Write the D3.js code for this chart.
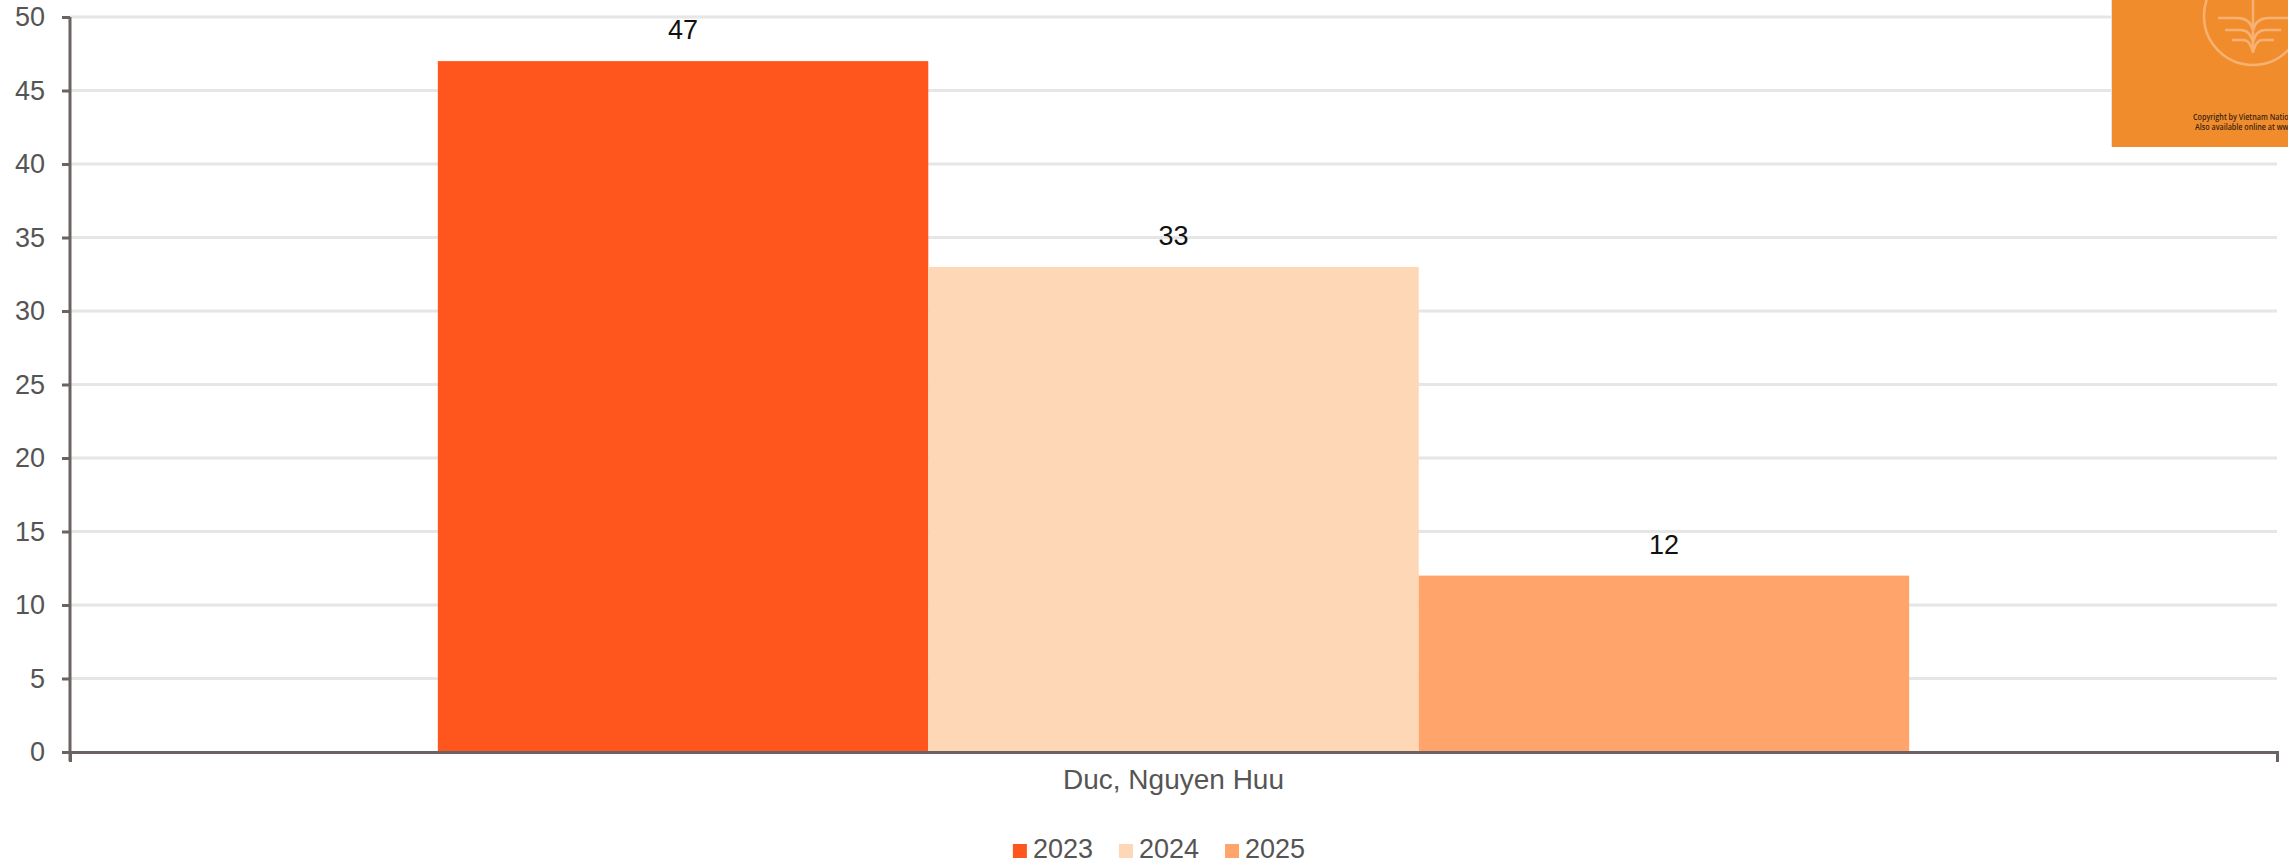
<!DOCTYPE html>
<html>
<head>
<meta charset="utf-8">
<script src="https://cdn.jsdelivr.net/npm/d3@7"></script>
<style>
  html, body { margin: 0; padding: 0; background: #fff; }
  svg { display: block; font-family: "Liberation Sans", Arial, sans-serif; }
</style>
</head>
<body>
<div class="visHolder"></div>
<script>
// chart data
const categories = ['Duc, Nguyen Huu'];
const seriesNames = ['2023', '2024', '2025'];
const seriesValues = [47, 33, 12];
const seriesColors = ['#ff561d', '#fdd7b6', '#ffa56c'];
const yTicks = [0, 5, 10, 15, 20, 25, 30, 35, 40, 45, 50];

const w = 2288, h = 865;
const plotLeft = 70, plotRight = 2277, plotTop = 17, plotBottom = 752;

const svg = d3.select('.visHolder')
  .append('svg')
  .attr('width', w)
  .attr('height', h);

const yScale = d3.scaleLinear().domain([0, 50]).range([plotBottom, plotTop]);
const x0 = d3.scaleBand().domain(categories).range([plotLeft, plotRight])
  .paddingInner(0).paddingOuter(0.25);
const x1 = d3.scaleBand().domain(seriesNames).range([0, x0.bandwidth()]);
const color = d3.scaleOrdinal().domain(seriesNames).range(seriesColors);

// gridlines
svg.append('g')
  .selectAll('line')
  .data(yTicks.filter(d => d > 0))
  .enter()
  .append('line')
  .attr('x1', plotLeft)
  .attr('x2', plotRight)
  .attr('y1', d => yScale(d))
  .attr('y2', d => yScale(d))
  .attr('stroke', '#e6e6e6')
  .attr('stroke-width', 3);

// bars
const rows = seriesNames.map((s, i) => ({cat: categories[0], key: s, value: seriesValues[i]}));
svg.append('g')
  .selectAll('rect')
  .data(rows)
  .enter()
  .append('rect')
  .attr('x', d => x0(d.cat) + x1(d.key))
  .attr('y', d => yScale(d.value))
  .attr('width', x1.bandwidth())
  .attr('height', d => plotBottom - yScale(d.value))
  .attr('fill', d => color(d.key));

// value labels
svg.append('g')
  .selectAll('text')
  .data(rows)
  .enter()
  .append('text')
  .attr('x', d => x0(d.cat) + x1(d.key) + x1.bandwidth() / 2)
  .attr('y', d => yScale(d.value) - 22)
  .attr('text-anchor', 'middle')
  .attr('font-size', 27)
  .attr('fill', '#111')
  .text(d => d.value);

// y axis
const yAxis = d3.axisLeft(yScale).tickValues(yTicks).tickSize(8).tickSizeOuter(0).tickPadding(17);
const gy = svg.append('g')
  .attr('transform', `translate(${plotLeft}, 0)`)
  .call(yAxis);
gy.select('.domain').attr('stroke', '#6b6262').attr('stroke-width', 3)
  .attr('d', `M0,${plotTop}V${plotBottom + 9}`);
gy.selectAll('.tick line').attr('stroke', '#6b6262').attr('stroke-width', 3);
gy.selectAll('.tick text').attr('font-size', 27).attr('fill', '#555')
  .attr('font-family', '"Liberation Sans", Arial, sans-serif');

// x axis
const xAxis = d3.axisBottom(x0).tickSizeInner(0).tickSizeOuter(10).tickPadding(17);
const gx = svg.append('g')
  .attr('transform', `translate(0, ${plotBottom})`)
  .call(xAxis);
gx.select('.domain').attr('stroke', '#6b6262').attr('stroke-width', 3);
gx.selectAll('.tick text').attr('font-size', 28).attr('fill', '#555')
  .attr('font-family', '"Liberation Sans", Arial, sans-serif');

// legend
const legend = svg.append('g').attr('id', 'legend');
const items = legend.selectAll('g')
  .data(seriesNames)
  .enter()
  .append('g');
items.append('rect')
  .attr('width', 14)
  .attr('height', 14)
  .attr('y', -14)
  .attr('fill', d => color(d));
items.append('text')
  .attr('x', 20)
  .attr('y', 0)
  .attr('font-size', 27)
  .attr('fill', '#555')
  .text(d => d);
let off = 0;
items.each(function() {
  const bw = this.getBBox().width;
  d3.select(this).attr('transform', `translate(${off}, 0)`);
  off += bw + 26;
});
const legendWidth = off - 26;
legend.attr('transform', `translate(${1159 - legendWidth / 2}, ${858})`);

// logo box at top right
const logo = svg.append('g');
logo.append('clipPath').attr('id', 'logoClip')
  .append('rect').attr('x', 2111).attr('y', 0).attr('width', 177).attr('height', 147);
const lg = logo.append('g').attr('clip-path', 'url(#logoClip)');
lg.append('rect').attr('x', 2111).attr('y', 0).attr('width', 177).attr('height', 147)
  .attr('fill', '#f18c2d');
lg.append('line').attr('x1', 2111.5).attr('x2', 2111.5).attr('y1', 0).attr('y2', 147)
  .attr('stroke', '#dfe3ea').attr('stroke-width', 1);
const lineCol = '#f6b173';
lg.append('circle').attr('cx', 2253).attr('cy', 16).attr('r', 49)
  .attr('fill', 'none').attr('stroke', lineCol).attr('stroke-width', 2.5);
lg.append('line').attr('x1', 2253).attr('x2', 2253).attr('y1', 0).attr('y2', 53)
  .attr('stroke', lineCol).attr('stroke-width', 2.5);
[[18, 2218], [30, 2225], [40, 2232]].forEach(([yy, xx]) => {
  const dx = 2253 - xx;
  lg.append('path')
    .attr('d', `M${xx},${yy}H${2253 - dx * 0.45}Q${2250},${yy} 2253,${yy + 12}Q${2256},${yy} ${2253 + dx * 0.45},${yy}H${2253 + dx}`)
    .attr('fill', 'none').attr('stroke', lineCol).attr('stroke-width', 2.5);
});
const logoText = lg.append('g')
  .attr('font-family', '"Open Sans", sans-serif').attr('font-weight', 600)
  .attr('font-size', 9).attr('fill', '#3a2410');
logoText.append('text').attr('transform', 'translate(2193,120) scale(0.8,1)')
  .text('Copyright by Vietnam National University');
logoText.append('text').attr('transform', 'translate(2195,130) scale(0.8,1)')
  .text('Also available online at www.vnu.edu.vn');
</script>
</body>
</html>
